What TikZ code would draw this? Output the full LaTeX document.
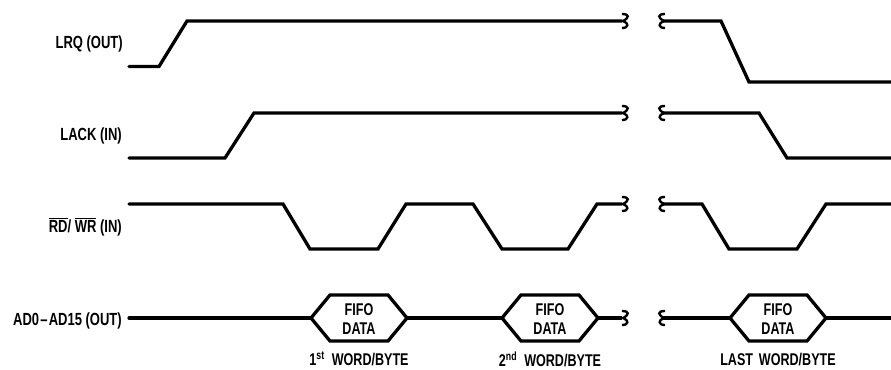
\documentclass[tikz,border=0pt]{standalone}
\usepackage{fontspec}
\setmainfont{Liberation Sans}[FakeStretch=.74]
\usepackage{tikz}
\tikzstyle{wave}=[line width=2.8pt,line join=miter]
\tikzstyle{squig}=[line width=2pt]
\tikzstyle{sig}=[anchor=east,inner sep=0pt,font=\fontsize{15}{16}\bfseries\selectfont]
\tikzstyle{hexlbl}=[align=center,inner sep=0pt,font=\fontsize{14.5}{15.5}\bfseries\selectfont]
\tikzstyle{wordlbl}=[inner sep=0pt,font=\fontsize{14.5}{16}\bfseries\selectfont]
\newcommand{\brkr}[2]{\draw[squig] (#1,#2-7) .. controls (#1+8,#2-7) and (#1+7,#2-3) .. (#1+1,#2) .. controls (#1+7,#2+2) and (#1+7,#2+7) .. (#1,#2+7);}
\newcommand{\brkl}[2]{\draw[squig] (#1+6,#2-7) .. controls (#1-2,#2-7) and (#1-1,#2-3) .. (#1+5,#2) .. controls (#1-1,#2+2) and (#1-1,#2+7) .. (#1+6,#2+7);}
\newcommand{\hexdata}[2]{
  \draw[wave] (#1,318)--(#1+19,295)--(#1+77,295)--(#1+96,318)--(#1+77,341)--(#1+19,341)--cycle;
  \node[hexlbl](#2) at (#1+48,319){FIFO\\DATA};}
\begin{document}
\begin{tikzpicture}[x=.03cm,y=-.03cm]
  \useasboundingbox (0,0) rectangle (891,370);
  % labels
  \node[sig](lrq) at (123,44){LRQ (OUT)};
  \node[sig](lack) at (122,136){LACK (IN)};
  \node[sig](rdwr) at (122,227){$\overline{\mbox{RD}}$/ $\overline{\mbox{WR}}$ (IN)};
  \node[sig](ad) at (122,321){AD0\kern1pt--\kern1ptAD15 (OUT)};
  % LRQ
  \draw[wave,line cap=round](129,66.5)--(159,66.5)--(187,21)--(622,21);
  \draw[wave](663,21)--(721,21)--(749,82)--(891,82);
  % LACK
  \draw[wave,line cap=round](129,158)--(225,158)--(254,113)--(622,113);
  \draw[wave](663,113)--(759,113)--(787,158)--(891,158);
  % RD/WR
  \draw[wave,line cap=round](129,204)--(283,204)--(310,249)--(378,249)--(406,204)--(473,204)--(502,249)--(568,249)--(597,204)--(622,204);
  \draw[wave](663,204)--(702,204)--(729,249)--(797,249)--(826,204)--(891,204);
  % AD0-AD15
  \draw[wave,line cap=round](129,318)--(311,318);
  \draw[wave](407,318)--(502,318);
  \draw[wave](598,318)--(622,318);
  \draw[wave](663,318)--(730,318);
  \draw[wave](826,318)--(891,318);
  \hexdata{311}{fifoa}
  \hexdata{502}{fifob}
  \hexdata{730}{fifoc}
  % breaks
  \foreach \yy in {21,113,204,318}{
    \brkr{622}{\yy}
    \brkl{659}{\yy}
  }
  \node[wordlbl](worda) at (359,359){1\textsuperscript{st}\kern3pt{} WORD/BYTE};
  \node[wordlbl](wordb) at (550,359){2\textsuperscript{nd}\kern3pt{} WORD/BYTE};
  \node[wordlbl](wordc) at (778,359.5){LAST\kern2pt{} WORD/BYTE};
\end{tikzpicture}
\end{document}
